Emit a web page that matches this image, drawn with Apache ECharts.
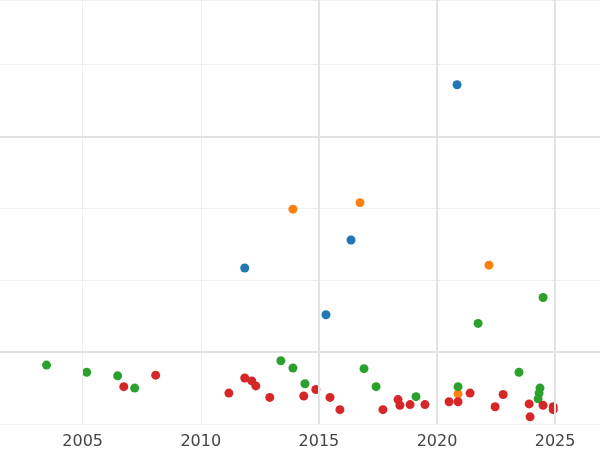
<!DOCTYPE html>
<html>
<head>
<meta charset="utf-8">
<script src="https://cdn.jsdelivr.net/npm/echarts@6/dist/echarts.min.js"></script>
<style>html,body{margin:0;padding:0;background:#fff}#chart{width:600px;height:450px}</style>
</head>
<body>
<div id="chart"></div>
<script>
var blueData = [[2020.85, 3.72], [2011.86, 1.17], [2016.36, 1.56], [2015.30, 0.52]];
var orangeData = [[2013.90, 1.99], [2016.74, 2.08], [2022.20, 1.21], [2020.89, -0.58]];
var greenData = [
    [2003.47, -0.18], [2005.17, -0.28], [2006.48, -0.33], [2007.20, -0.50],
    [2013.39, -0.12], [2013.90, -0.22], [2014.41, -0.44], [2016.91, -0.23],
    [2017.42, -0.48], [2019.11, -0.62], [2020.89, -0.48], [2021.74, 0.40],
    [2023.47, -0.28], [2024.49, 0.76], [2024.36, -0.50], [2024.32, -0.57], [2024.28, -0.65]
];
var redData = [
    [2006.74, -0.48], [2008.09, -0.32], [2011.19, -0.57], [2011.86, -0.36],
    [2012.16, -0.40], [2012.33, -0.47], [2012.92, -0.63], [2014.36, -0.61],
    [2014.87, -0.52], [2015.47, -0.63], [2015.89, -0.80], [2017.71, -0.80],
    [2018.35, -0.66], [2018.43, -0.74], [2018.86, -0.73], [2019.49, -0.73],
    [2020.51, -0.69], [2020.89, -0.69], [2021.40, -0.57], [2022.46, -0.76],
    [2022.80, -0.59], [2023.90, -0.72], [2023.94, -0.90], [2024.49, -0.74],
    [2024.92, -0.76], [2024.92, -0.80]
];
var yearTicks = [2005, 2010, 2015, 2020, 2025];
var majorYears = [2015, 2020, 2025];
var minorYears = [2005, 2010];
var majorY = [0, 3];

var chart = echarts.init(document.getElementById('chart'));

function scatter(data, color, extra) {
    var s = {
        type: 'scatter',
        symbolSize: 9,
        itemStyle: { color: color, opacity: 1 },
        data: data
    };
    return Object.assign(s, extra || {});
}

function vlines(years, width, color) {
    return {
        silent: true, symbol: 'none', label: { show: false },
        lineStyle: { color: color, width: width, type: 'solid' },
        data: years.map(function (v) { return { xAxis: v }; })
    };
}

chart.setOption({
    animation: false,
    grid: { left: 0, right: 0, top: 0, bottom: 20, containLabel: false },
    xAxis: {
        type: 'value', min: 2001.5, max: 2026.9,
        axisLine: { show: false },
        axisTick: { show: false, customValues: yearTicks },
        axisLabel: {
            color: '#444', fontSize: 16, margin: 10, fontFamily: 'DejaVu Sans',
            customValues: yearTicks,
            formatter: function (v) { return String(Math.round(v)); }
        },
        splitLine: { show: false }
    },
    yAxis: {
        type: 'value', min: -1, max: 4.9, interval: 1,
        axisLine: { show: false }, axisTick: { show: false },
        axisLabel: { show: false },
        splitLine: { lineStyle: { color: '#eeeeee', width: 1 } }
    },
    series: [
        scatter([], '#000', { markLine: vlines(minorYears, 1, '#eeeeee') }),
        scatter([], '#000', { markLine: vlines(majorYears, 2, '#e2e2e2') }),
        scatter([], '#000', {
            markLine: {
                silent: true, symbol: 'none', label: { show: false },
                lineStyle: { color: '#e2e2e2', width: 2, type: 'solid' },
                data: majorY.map(function (v) { return { yAxis: v }; })
            }
        }),
        scatter(blueData, '#1f77b4'),
        scatter(orangeData, '#ff7f0e'),
        scatter(greenData, '#2ca02c'),
        scatter(redData, '#d62728')
    ]
});
</script>
</body>
</html>
